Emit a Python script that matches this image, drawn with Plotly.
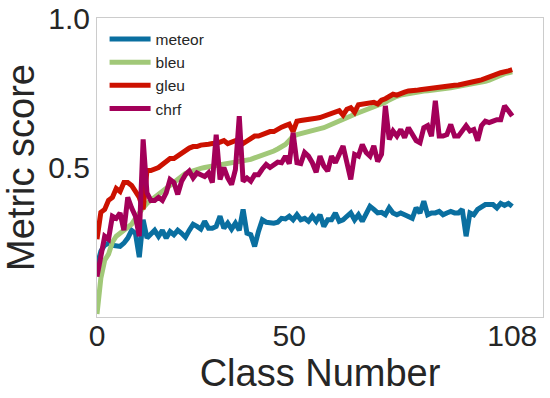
import plotly.graph_objects as go

# class index 0..108
classes = list(range(109))

meteor = [0.17, 0.22, 0.24, 0.247, 0.24, 0.24, 0.236, 0.247, 0.264, 0.29,
          0.28, 0.20, 0.325, 0.264, 0.275, 0.29, 0.27, 0.29, 0.264, 0.286,
          0.275, 0.29, 0.28, 0.267, 0.29, 0.31, 0.303, 0.294, 0.32, 0.297,
          0.297, 0.303, 0.337, 0.297, 0.314, 0.294, 0.314, 0.29, 0.36, 0.28,
          0.275, 0.236, 0.286, 0.325, 0.317, 0.314, 0.314, 0.317, 0.33, 0.328,
          0.337, 0.325, 0.342, 0.325, 0.33, 0.32, 0.337, 0.32, 0.342, 0.303,
          0.325, 0.325, 0.348, 0.32, 0.325, 0.337, 0.348, 0.325, 0.342, 0.32,
          0.348, 0.37, 0.36, 0.348, 0.35, 0.342, 0.365, 0.348, 0.342, 0.348,
          0.342, 0.337, 0.33, 0.365, 0.348, 0.387, 0.342, 0.348, 0.348, 0.353,
          0.342, 0.348, 0.353, 0.348, 0.348, 0.36, 0.27, 0.348, 0.342, 0.36,
          0.37, 0.376, 0.376, 0.376, 0.365, 0.38, 0.373, 0.38, 0.37]

bleu = [0.01, 0.13, 0.19, 0.21, 0.25, 0.27, 0.28, 0.29, 0.30, 0.31,
        0.33, 0.35, 0.365, 0.38, 0.39, 0.40, 0.41, 0.425, 0.435, 0.445,
        0.455, 0.465, 0.472, 0.48, 0.485, 0.49, 0.495, 0.497, 0.50, 0.502,
        0.505, 0.507, 0.508, 0.51, 0.513, 0.516, 0.52, 0.522, 0.524, 0.525,
        0.527, 0.532, 0.536, 0.54, 0.545, 0.55, 0.555, 0.562, 0.57, 0.577,
        0.59, 0.605, 0.61, 0.614, 0.617, 0.62, 0.622, 0.626, 0.63, 0.633,
        0.638, 0.644, 0.65, 0.656, 0.661, 0.667, 0.672, 0.678, 0.683, 0.689,
        0.695, 0.70, 0.704, 0.708, 0.711, 0.718, 0.726, 0.733, 0.738, 0.742,
        0.745, 0.748, 0.75, 0.752, 0.754, 0.756, 0.757, 0.758, 0.76, 0.762,
        0.763, 0.765, 0.767, 0.769, 0.771, 0.773, 0.775, 0.777, 0.779, 0.781,
        0.784, 0.788, 0.792, 0.798, 0.804, 0.81, 0.814, 0.817, 0.82]

gleu = [0.26, 0.35, 0.36, 0.39, 0.40, 0.43, 0.42, 0.45, 0.45, 0.44,
        0.42, 0.40, 0.36, 0.49, 0.49, 0.495, 0.50, 0.51, 0.52, 0.53,
        0.53, 0.54, 0.545, 0.555, 0.565, 0.57, 0.57, 0.575, 0.575, 0.578,
        0.58, 0.58, 0.585, 0.59, 0.58, 0.585, 0.59, 0.595, 0.58, 0.59,
        0.60, 0.605, 0.605, 0.61, 0.615, 0.62, 0.62, 0.63, 0.635, 0.64,
        0.645, 0.62, 0.655, 0.657, 0.66, 0.66, 0.662, 0.665, 0.667, 0.672,
        0.675, 0.68, 0.685, 0.69, 0.675, 0.695, 0.70, 0.685, 0.71, 0.712,
        0.715, 0.714, 0.718, 0.712, 0.725, 0.73, 0.738, 0.745, 0.742, 0.745,
        0.752, 0.756, 0.755, 0.758, 0.76, 0.762, 0.764, 0.767, 0.768, 0.768,
        0.77, 0.771, 0.773, 0.775, 0.776, 0.778, 0.78, 0.783, 0.787, 0.79,
        0.793, 0.797, 0.80, 0.806, 0.812, 0.817, 0.818, 0.823, 0.827]

chrf = [0.135, 0.20, 0.27, 0.26, 0.337, 0.33, 0.348, 0.29, 0.40, 0.365,
        0.337, 0.27, 0.594, 0.415, 0.39, 0.39, 0.40, 0.39, 0.415, 0.46,
        0.45, 0.41, 0.454, 0.476, 0.488, 0.465, 0.482, 0.476, 0.47, 0.482,
        0.45, 0.61, 0.46, 0.50, 0.465, 0.443, 0.493, 0.672, 0.454, 0.465,
        0.454, 0.476, 0.476, 0.495, 0.51, 0.50, 0.51, 0.518, 0.516, 0.538,
        0.513, 0.616, 0.516, 0.513, 0.55, 0.538, 0.516, 0.484, 0.538, 0.505,
        0.488, 0.538, 0.516, 0.544, 0.572, 0.516, 0.46, 0.544, 0.538, 0.577,
        0.55, 0.538, 0.572, 0.52, 0.544, 0.706, 0.594, 0.622, 0.605, 0.627,
        0.60, 0.633, 0.61, 0.59, 0.583, 0.633, 0.64, 0.605, 0.723, 0.605,
        0.605, 0.61, 0.644, 0.605, 0.605, 0.622, 0.64, 0.622, 0.627, 0.59,
        0.64, 0.655, 0.65, 0.655, 0.66, 0.66, 0.706, 0.69, 0.672]

series = [("meteor", meteor, "#0A6FA0"),
          ("bleu", bleu, "#A1C878"),
          ("gleu", gleu, "#CC1100"),
          ("chrf", chrf, "#A30059")]

x_ticks = [0, 50, 108]
y_ticks = [0.5, 1.0]
y_ticktext = ["0.5", "1.0"]

fig = go.Figure()
for name, vals, col in series:
    fig.add_trace(go.Scatter(x=classes, y=vals, name=name, mode="lines",
                             line=dict(color=col, width=5)))

txt = "#262626"
fig.update_layout(
    width=550, height=398,
    margin=dict(l=97, r=7, t=18, b=81),
    paper_bgcolor="white", plot_bgcolor="white",
    font=dict(family="Liberation Sans, Arial, sans-serif", color=txt),
    legend=dict(x=0.017, y=0.985, xanchor="left", yanchor="top",
                bgcolor="rgba(0,0,0,0)", font=dict(size=15.5, color=txt),
                itemwidth=41),
    xaxis=dict(range=[0, 116], tickvals=x_ticks, showgrid=False, zeroline=False,
               showline=True, mirror=True, linecolor="#cccccc", linewidth=1,
               ticks="", ticklen=0, ticklabelstandoff=-8,
               tickfont=dict(size=30, color=txt), automargin=False,
               title=dict(text="Class Number", font=dict(size=38, color=txt),
                          standoff=6)),
    yaxis=dict(range=[0, 1], tickvals=y_ticks, ticktext=y_ticktext,
               showgrid=False, zeroline=False, automargin=False,
               showline=True, mirror=True, linecolor="#cccccc", linewidth=1,
               ticks="", tickfont=dict(size=30, color=txt),
               title=dict(text="Metric score", font=dict(size=38, color=txt),
                          standoff=8)),
)

# page body has a default margin; drop it so the figure sits at the top-left
fig.write_html("out.html", config={"displayModeBar": False},
               post_script="document.body.style.margin='0';")
